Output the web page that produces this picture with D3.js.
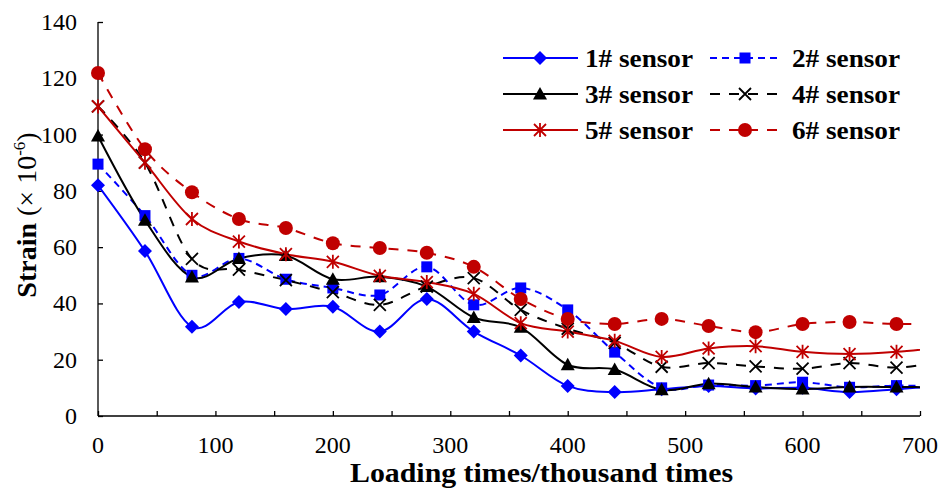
<!DOCTYPE html>
<style>
  body { margin: 0; background: #fff; }
  svg { font-family: "Liberation Serif", "Times New Roman", serif; }
</style>
<svg width="948" height="488"></svg>
<script src="https://d3js.org/d3.v7.min.js"></script>
<script>

  // loading times (thousand); 720 lies past the axis end and is clipped
  var loads = [0, 40, 80, 120, 160, 200, 240, 280, 320, 360, 400, 440, 480, 520, 560, 600, 640, 680, 720];

  var sensor1 = [82, 58.6, 31.7, 40.5, 38, 38.8, 30, 41.6, 30, 21.5, 10.7, 8.5, 9.5, 10.7, 9.8, 10, 8.5, 9.5, 10.8];
  var sensor2 = [89.5, 71.2, 50, 56, 48.6, 45.5, 43, 53, 39.5, 45.5, 37.7, 22.7, 10, 11, 10.8, 12, 10.2, 10.8, 10.5];
  var sensor3 = [99.5, 69.6, 49.4, 56, 57, 48.6, 49.5, 46, 35, 31.5, 18.2, 16.5, 9.3, 11.5, 10.3, 9.6, 10.3, 10.3, 10.2];
  var sensor4 = [110, 90, 55.8, 52, 48.3, 44, 39.5, 46, 49, 37.7, 31, 26, 17.5, 18.8, 17.6, 16.8, 18.8, 17.2, 19.5];
  var sensor5 = [110, 90, 70, 62, 57.5, 54.8, 49.8, 47.6, 43.4, 33, 30, 26.7, 21, 24, 24.8, 22.8, 22, 22.8, 24.5];
  var sensor6 = [121.9, 94.8, 79.5, 70, 66.8, 61.4, 59.7, 58, 53, 41.6, 34.5, 32.7, 34.5, 32, 29.8, 32.7, 33.4, 32.7, 32.8];

  var names = ["1# sensor", "2# sensor", "3# sensor", "4# sensor", "5# sensor", "6# sensor"];
  var xTicks = [0, 100, 200, 300, 400, 500, 600, 700];
  var yTicks = [0, 20, 40, 60, 80, 100, 120, 140];

  var series = [
    { name: names[0], values: sensor1, color: "#0000ff", dash: null, marker: "diamond" },
    { name: names[1], values: sensor2, color: "#0000ff", dash: "7,5", marker: "square" },
    { name: names[2], values: sensor3, color: "#000000", dash: null, marker: "triangle" },
    { name: names[3], values: sensor4, color: "#000000", dash: "10,9", marker: "x" },
    { name: names[4], values: sensor5, color: "#c00000", dash: null, marker: "star" },
    { name: names[5], values: sensor6, color: "#c00000", dash: "10,9", marker: "circle" }
  ];

  var svg = d3.select("svg");
  var pLeft = 98, pRight = 920, pTop = 22, pBottom = 416;

  var x = d3.scaleLinear().domain([0, 700]).range([pLeft, pRight]);
  var y = d3.scaleLinear().domain([0, 140]).range([pBottom, pTop]);

  svg.append("defs").append("clipPath").attr("id", "plotclip")
    .append("rect").attr("x", pLeft).attr("y", 0).attr("width", pRight - pLeft).attr("height", pBottom);

  // axes
  var xAxis = svg.append("g").attr("transform", "translate(0," + pBottom + ")")
    .call(d3.axisBottom(x).tickValues(d3.range(0, 701, 50)).tickSize(-5).tickFormat(""));
  var yAxis = svg.append("g").attr("transform", "translate(" + pLeft + ",0)")
    .call(d3.axisLeft(y).tickValues(yTicks).tickSize(-5).tickFormat(""));
  [xAxis, yAxis].forEach(function (g) {
    g.select(".domain").attr("stroke", "#000").attr("stroke-width", 1.3);
    g.selectAll(".tick line").attr("stroke", "#000").attr("stroke-width", 1.3);
  });
  xAxis.select(".domain").attr("d", "M" + pLeft + ",0H" + pRight);
  yAxis.select(".domain").attr("d", "M0," + pBottom + "V" + pTop);

  svg.append("g").selectAll("text").data(xTicks).enter().append("text")
    .attr("x", function (d) { return x(d); })
    .attr("y", 453)
    .attr("text-anchor", "middle")
    .attr("font-size", 24)
    .text(function (d) { return d; });

  svg.append("g").selectAll("text").data(yTicks).enter().append("text")
    .attr("x", 77)
    .attr("y", function (d) { return y(d) + 8; })
    .attr("text-anchor", "end")
    .attr("font-size", 24)
    .text(function (d) { return d; });

  svg.append("text")
    .attr("x", 350).attr("y", 482)
    .attr("font-size", 27).attr("font-weight", "bold")
    .attr("textLength", 383).attr("lengthAdjust", "spacingAndGlyphs")
    .text("Loading times/thousand times");

  var ytitle = svg.append("text")
    .attr("transform", "translate(36,215) rotate(-90)")
    .attr("text-anchor", "middle")
    .attr("font-size", 28);
  ytitle.append("tspan").attr("font-weight", "bold").text("Strain ");
  ytitle.append("tspan").text("(× 10");
  ytitle.append("tspan").attr("font-size", 17).attr("dy", -11).text("-6");
  ytitle.append("tspan").attr("dy", 11).text(")");

  // markers
  function drawMarker(g, type, color) {
    if (type === "diamond") {
      g.append("path").attr("d", "M0,-7L7,0L0,7L-7,0Z").attr("fill", color);
    } else if (type === "square") {
      g.append("rect").attr("x", -5.5).attr("y", -5.5).attr("width", 11).attr("height", 11).attr("fill", color);
    } else if (type === "triangle") {
      g.append("path").attr("d", "M0,-7L7,5.5L-7,5.5Z").attr("fill", color);
    } else if (type === "circle") {
      g.append("circle").attr("r", 7).attr("fill", color);
    } else if (type === "x") {
      g.append("path").attr("d", "M-6,-6L6,6M-6,6L6,-6").attr("stroke", color).attr("stroke-width", 1.8).attr("fill", "none");
    } else if (type === "star") {
      g.append("path").attr("d", "M-6,-6L6,6M-6,6L6,-6M0,-7V7").attr("stroke", color).attr("stroke-width", 1.8).attr("fill", "none");
    }
  }

  var line = d3.line()
    .x(function (d, i) { return x(loads[i]); })
    .y(function (d) { return y(d); })
    .curve(d3.curveCardinal.tension(0));

  series.forEach(function (s) {
    svg.append("path")
      .attr("clip-path", "url(#plotclip)")
      .attr("d", line(s.values))
      .attr("fill", "none")
      .attr("stroke", s.color)
      .attr("stroke-width", 2)
      .attr("stroke-dasharray", s.dash);
  });

  series.forEach(function (s) {
    s.values.forEach(function (v, i) {
      if (loads[i] > 700) return;
      var g = svg.append("g").attr("transform", "translate(" + x(loads[i]) + "," + y(v) + ")");
      drawMarker(g, s.marker, s.color);
    });
  });

  // legend, two columns
  var legend = svg.append("g");
  series.forEach(function (s, i) {
    var col = i % 2, row = Math.floor(i / 2);
    var lx = col === 0 ? 503 : 710;
    var ly = 58 + row * 36;
    var g = legend.append("g").attr("transform", "translate(" + lx + "," + ly + ")");
    g.append("line").attr("x1", 0).attr("x2", col === 0 ? 75 : 68).attr("y1", 0).attr("y2", 0)
      .attr("stroke", s.color).attr("stroke-width", 2).attr("stroke-dasharray", s.dash);
    var m = g.append("g").attr("transform", "translate(" + (col === 0 ? 37 : 35) + ",0)");
    drawMarker(m, s.marker, s.color);
    g.append("text").attr("x", 82).attr("y", 9)
      .attr("font-size", 26).attr("font-weight", "bold")
      .attr("textLength", 108).attr("lengthAdjust", "spacingAndGlyphs")
      .text(s.name);
  });

</script>
